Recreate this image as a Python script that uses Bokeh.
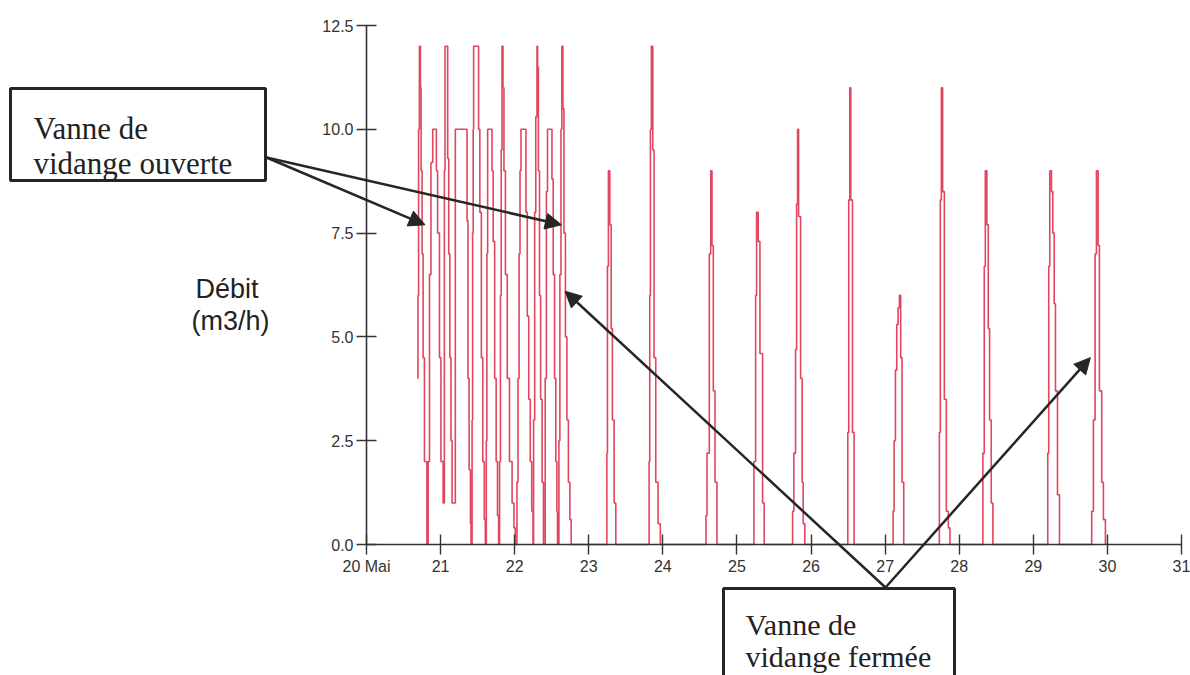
from bokeh.plotting import figure
from bokeh.models import FixedTicker, NumeralTickFormatter, Label, Arrow, NormalHead, BoxAnnotation
from bokeh.embed import file_html
from bokeh.resources import INLINE

# ---------------- data (time in days of May, flow in m3/h) ----------------
jours_vidange = [
    20.690, 20.695, 20.703, 20.714, 20.728, 20.737, 20.750, 20.764, 20.782, 20.815,
    20.832, 20.850, 20.870, 20.894, 20.943, 20.960, 20.985, 21.005, 21.034,
    21.051, 21.060, 21.096, 21.110, 21.125, 21.140, 21.155,
    21.199, 21.357, 21.370, 21.385, 21.403, 21.411,
    21.425, 21.432, 21.440, 21.446, 21.513, 21.530, 21.550, 21.570, 21.590, 21.604,
    21.617, 21.625, 21.635, 21.694, 21.710, 21.730, 21.750, 21.768, 21.783,
    21.796, 21.808, 21.818, 21.829, 21.842, 21.855, 21.875, 21.900, 21.930, 21.965, 21.990, 22.008,
    22.031, 22.045, 22.060, 22.072, 22.085, 22.152, 22.170, 22.190, 22.210, 22.230, 22.247,
    22.255, 22.270, 22.285, 22.301, 22.309, 22.320, 22.335, 22.350, 22.370, 22.389,
    22.412, 22.428, 22.443, 22.503, 22.520, 22.538, 22.555, 22.570, 22.578,
    22.597, 22.610, 22.625, 22.637, 22.651, 22.665, 22.685, 22.705, 22.725, 22.745, 22.763,
]
debit_vidange = [
    4.0, 6.0, 10.0, 12.0, 11.0, 9.0, 7.0, 4.5, 2.0, 0.0,
    2.0, 6.5, 9.2, 10.0, 9.0, 7.5, 4.5, 2.0, 1.0,
    9.0, 12.0, 9.3, 7.0, 4.5, 2.5, 1.0,
    10.0, 7.8, 4.0, 1.8, 0.5, 0.0,
    3.0, 7.5, 10.0, 12.0, 10.0, 8.0, 4.5, 2.0, 0.6, 0.0,
    2.5, 7.0, 10.0, 9.0, 7.3, 4.0, 2.0, 0.7, 0.0,
    2.0, 6.0, 9.5, 12.0, 11.0, 9.0, 6.5, 4.0, 2.0, 1.0, 0.4, 0.0,
    1.5, 4.0, 7.0, 9.0, 10.0, 8.0, 5.5, 3.5, 2.0, 0.8, 0.0,
    3.0, 8.0, 10.3, 12.0, 11.5, 9.0, 6.0, 3.5, 1.5, 0.0,
    4.0, 8.5, 10.0, 8.8, 6.5, 4.0, 2.0, 0.8, 0.0,
    2.5, 6.5, 10.0, 12.0, 10.5, 7.5, 5.0, 3.0, 1.5, 0.6, 0.0,
]
jours_pics = [
    23.244, 23.252, 23.265, 23.284, 23.302, 23.319, 23.342, 23.365,
    23.814, 23.823, 23.832, 23.845, 23.864, 23.881, 23.904, 23.935, 23.966,
    24.582, 24.596, 24.627, 24.646, 24.663, 24.681, 24.704, 24.730,
    25.229, 25.252, 25.265, 25.287, 25.310, 25.346, 25.368,
    25.751, 25.768, 25.791, 25.805, 25.818, 25.832, 25.859, 25.880, 25.894, 25.916,
    26.496, 26.509, 26.523, 26.536, 26.559, 26.581,
    27.107, 27.121, 27.139, 27.157, 27.175, 27.193, 27.210, 27.228, 27.251,
    27.732, 27.745, 27.759, 27.776, 27.799, 27.826, 27.853, 27.875,
    28.319, 28.338, 28.352, 28.373, 28.392, 28.410, 28.432, 28.454,
    29.195, 29.208, 29.222, 29.245, 29.263, 29.282, 29.299, 29.326, 29.353,
    29.788, 29.811, 29.834, 29.852, 29.875, 29.892, 29.923, 29.946, 29.973,
]
debit_pics = [
    2.2, 6.7, 9.0, 7.7, 5.2, 3.0, 1.0, 0.0,
    2.0, 6.0, 10.0, 12.0, 9.5, 4.5, 1.5, 0.5, 0.0,
    0.7, 2.2, 7.0, 9.0, 7.2, 3.7, 1.5, 0.0,
    2.0, 6.0, 8.0, 7.3, 4.6, 1.0, 0.0,
    0.8, 2.2, 4.7, 8.2, 10.0, 7.9, 4.0, 1.5, 0.5, 0.0,
    2.7, 8.3, 11.0, 8.3, 2.7, 0.0,
    0.8, 2.5, 4.2, 5.3, 5.7, 6.0, 4.5, 1.5, 0.0,
    2.7, 8.3, 11.0, 8.5, 3.5, 0.8, 0.4, 0.0,
    2.2, 6.7, 9.0, 7.7, 5.2, 3.0, 1.0, 0.0,
    2.2, 6.7, 9.0, 8.5, 7.5, 5.8, 3.7, 1.2, 0.0,
    0.8, 3.0, 7.0, 9.0, 7.2, 3.7, 1.5, 0.6, 0.0,
]
x_ticks = [20, 21, 22, 23, 24, 25, 26, 27, 28, 29, 30, 31]
x_tick_labels = ["20 Mai", "21", "22", "23", "24", "25", "26", "27", "28", "29", "30", "31"]
y_ticks = [0.0, 2.5, 5.0, 7.5, 10.0, 12.5]

# points the arrows aim at (day, m3/h)
cible_ouverte = [(20.79, 7.7), (22.63, 7.7)]
cible_fermee = [(22.68, 6.1), (29.77, 4.5)]

# ---------------- layout (page pixel anchors) ----------------
FIG_W, FIG_H = 1190, 675
OFF = 0
X0_PX, X1_PX = 366, 1181   # page x of day 20 and day 31
Y0_PX, Y1_PX = 544, 25     # page y of 0.0 and 12.5

kx = (X1_PX - X0_PX) / (x_ticks[-1] - x_ticks[0])
ky = (Y0_PX - Y1_PX) / y_ticks[-1]
x_start = x_ticks[0] - (X0_PX - OFF) / kx
x_end = x_start + FIG_W / kx
y_end = (Y0_PX - OFF) / ky
y_start = y_end - FIG_H / ky


def px(xp):
    return x_start + (xp - OFF) / kx


def py(yp):
    return y_end - (yp - OFF) / ky


p = figure(width=FIG_W, height=FIG_H, x_range=(x_start, x_end), y_range=(y_start, y_end),
           output_backend="svg", toolbar_location=None, min_border=0,
           background_fill_color="white", border_fill_color="white")
p.title = None
p.outline_line_color = None
p.xgrid.visible = False
p.ygrid.visible = False

AX = "#333333"
xa = p.xaxis[0]
xa.fixed_location = 0
xa.bounds = (x_ticks[0], x_ticks[-1])
xa.ticker = FixedTicker(ticks=x_ticks)
xa.major_label_overrides = dict(zip(x_ticks, x_tick_labels))

ya = p.yaxis[0]
ya.fixed_location = x_ticks[0]
ya.bounds = (y_ticks[0], y_ticks[-1])
ya.ticker = FixedTicker(ticks=y_ticks)
ya.formatter = NumeralTickFormatter(format="0.0")

for ax in (xa, ya):
    ax.axis_line_color = AX
    ax.axis_line_width = 1.6
    ax.major_tick_line_color = AX
    ax.major_tick_line_width = 1.4
    ax.major_tick_in = 10
    ax.major_tick_out = 10
    ax.minor_tick_line_color = None
    ax.major_label_text_font = "Liberation Sans"
    ax.major_label_text_font_size = "16px"
    ax.major_label_text_color = AX
    ax.major_label_standoff = 3

LINE = "#E0475F"
p.step(jours_vidange + jours_pics, debit_vidange + debit_pics, mode="after",
       line_color=LINE, line_width=1.6)

# y-axis title
for txt, xp, yp in (("Débit", 195, 288), ("(m3/h)", 191, 320)):
    p.add_layout(Label(x=px(xp), y=py(yp), text=txt, text_font="Liberation Sans",
                       text_font_size="27px", text_color="#222222",
                       text_align="left", text_baseline="alphabetic"))

INK = "#262626"
# boxes
p.add_layout(BoxAnnotation(left=px(10), right=px(265), top=py(88), bottom=py(180),
                           fill_color="white", fill_alpha=1.0,
                           line_color=INK, line_alpha=1.0, line_width=3))
p.add_layout(BoxAnnotation(left=px(723), right=px(954), top=py(588), bottom=py(720),
                           fill_color="white", fill_alpha=1.0,
                           line_color=INK, line_alpha=1.0, line_width=3))

for txt, xp, yp, fs in (("Vanne de", 33, 128, "31px"), ("vidange ouverte", 33, 163, "31px"),
                        ("Vanne de", 745, 624, "30px"), ("vidange fermée", 745, 656, "30px")):
    p.add_layout(Label(x=px(xp), y=py(yp), text=txt, text_font="Liberation Serif",
                       text_font_size=fs, text_color="#222222",
                       text_align="left", text_baseline="alphabetic"))

# arrows
for (tx, ty) in cible_ouverte:
    p.add_layout(Arrow(end=NormalHead(size=16, fill_color=INK, line_color=INK, line_width=1),
                       x_start=px(266), y_start=py(157), x_end=tx, y_end=ty,
                       line_color=INK, line_width=2.5))
for (tx, ty) in cible_fermee:
    p.add_layout(Arrow(end=NormalHead(size=16, fill_color=INK, line_color=INK, line_width=1),
                       x_start=px(885), y_start=py(587), x_end=tx, y_end=ty,
                       line_color=INK, line_width=2.5))

open("out.html", "w").write(file_html(p, INLINE))
